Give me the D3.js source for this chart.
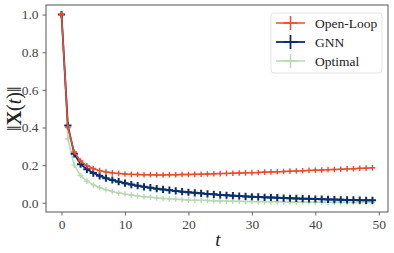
<!DOCTYPE html>
<html>
<head>
<meta charset="utf-8">
<script src="https://cdn.jsdelivr.net/npm/d3@7"></script>
<style>
  body { margin: 0; background: #fff; }
  svg { display: block; font-family: "Liberation Serif", "DejaVu Serif", serif; }
</style>
</head>
<body>
<div id="chart"></div>
<script>
const steps = d3.range(0, 50);
const openLoop = [1.0, 0.40, 0.27, 0.222, 0.197, 0.182, 0.171, 0.164, 0.159, 0.156,
  0.153, 0.151, 0.150, 0.149, 0.149, 0.148, 0.148, 0.149, 0.149, 0.150,
  0.150, 0.151, 0.152, 0.153, 0.154, 0.155, 0.156, 0.157, 0.158, 0.159,
  0.160, 0.161, 0.163, 0.164, 0.165, 0.166, 0.168, 0.169, 0.170, 0.172,
  0.173, 0.174, 0.176, 0.177, 0.178, 0.180, 0.181, 0.183, 0.184, 0.186];
const gnn = [1.0, 0.41, 0.26, 0.205, 0.178, 0.158, 0.143, 0.131, 0.121, 0.112,
  0.104, 0.097, 0.091, 0.085, 0.080, 0.075, 0.071, 0.067, 0.063, 0.059,
  0.056, 0.053, 0.050, 0.047, 0.045, 0.042, 0.040, 0.038, 0.036, 0.034,
  0.032, 0.031, 0.029, 0.028, 0.027, 0.025, 0.024, 0.023, 0.022, 0.021,
  0.020, 0.019, 0.018, 0.017, 0.016, 0.015, 0.015, 0.014, 0.013, 0.013];
const optimal = [1.0, 0.34, 0.20, 0.145, 0.115, 0.095, 0.080, 0.069, 0.060, 0.052,
  0.046, 0.041, 0.036, 0.032, 0.029, 0.026, 0.023, 0.021, 0.019, 0.017,
  0.015, 0.014, 0.013, 0.012, 0.011, 0.010, 0.009, 0.008, 0.008, 0.007,
  0.007, 0.006, 0.006, 0.005, 0.005, 0.005, 0.004, 0.004, 0.004, 0.004,
  0.003, 0.003, 0.003, 0.003, 0.003, 0.003, 0.002, 0.002, 0.002, 0.002];
const seriesNames = ["Open-Loop", "GNN", "Optimal"];
const xTicks = [0, 10, 20, 30, 40, 50];
const yTicks = [0.0, 0.2, 0.4, 0.6, 0.8, 1.0];

const colors = ["#f04a2e", "#08306b", "#b8d9b1"];
const lineWidths = [1.5, 1.8, 1.5];
const markSizes = [2.8, 3.6, 2.8];
const markWidths = [1.4, 2.0, 1.4];

const width = 394, height = 253;
const margin = { top: 5, right: 6, bottom: 41, left: 46 };
const serif = "'Liberation Serif', 'DejaVu Serif', serif";

const svg = d3.select("#chart").append("svg")
  .attr("width", width).attr("height", height);

const x = d3.scaleLinear().domain([-2.45, 51.45]).range([margin.left, width - margin.right]);
const y = d3.scaleLinear().domain([-0.049, 1.051]).range([height - margin.bottom, margin.top]);

// axes
const xAxis = svg.append("g")
  .attr("transform", "translate(0," + (height - margin.bottom) + ")")
  .call(d3.axisBottom(x).tickValues(xTicks).tickSize(3.5).tickPadding(4).tickFormat(d3.format("d")));
const yAxis = svg.append("g")
  .attr("transform", "translate(" + margin.left + ",0)")
  .call(d3.axisLeft(y).tickValues(yTicks).tickSize(3.5).tickPadding(4).tickFormat(d3.format(".1f")));

[xAxis, yAxis].forEach(g => {
  g.attr("font-family", serif).attr("font-size", 13.5);
  g.select(".domain").remove();
  g.selectAll(".tick line").attr("stroke", "#444").attr("stroke-width", 0.8);
  g.selectAll(".tick text").attr("fill", "#444");
});

// frame
svg.append("rect")
  .attr("x", margin.left).attr("y", margin.top)
  .attr("width", width - margin.left - margin.right)
  .attr("height", height - margin.top - margin.bottom)
  .attr("fill", "none").attr("stroke", "#555").attr("stroke-width", 1);

const allSeries = [openLoop, gnn, optimal];
const line = d3.line().x((d, i) => x(steps[i])).y(d => y(d));

const plusPath = s => "M" + (-s) + ",0H" + s + "M0," + (-s) + "V" + s;

// draw from back (optimal) to front (open-loop)
[2, 1, 0].forEach(k => {
  const g = svg.append("g");
  g.append("path")
    .datum(allSeries[k])
    .attr("fill", "none")
    .attr("stroke", colors[k])
    .attr("stroke-width", lineWidths[k])
    .attr("d", line);
  g.selectAll("path.mk")
    .data(allSeries[k])
    .join("path")
    .attr("class", "mk")
    .attr("transform", (d, i) => "translate(" + x(steps[i]) + "," + y(d) + ")")
    .attr("d", plusPath(markSizes[k]))
    .attr("stroke", colors[k])
    .attr("stroke-width", markWidths[k]);
});

// legend
const lg = svg.append("g").attr("transform", "translate(271,13)");
lg.append("rect")
  .attr("width", 111).attr("height", 60).attr("rx", 3)
  .attr("fill", "#fff").attr("fill-opacity", 0.8)
  .attr("stroke", "#ddd").attr("stroke-width", 0.8);
seriesNames.forEach((name, k) => {
  const yy = 10 + k * 19;
  lg.append("line").attr("x1", 5).attr("x2", 34).attr("y1", yy).attr("y2", yy)
    .attr("stroke", colors[k]).attr("stroke-width", lineWidths[k]);
  lg.append("path").attr("transform", "translate(19.5," + yy + ")")
    .attr("d", plusPath(7)).attr("stroke", colors[k]).attr("stroke-width", lineWidths[k]);
  lg.append("text").attr("x", 44).attr("y", yy + 4.5)
    .attr("fill", "#222").attr("font-family", serif).attr("font-size", 13.5).text(name);
});

// axis labels
svg.append("text")
  .attr("x", (x(0) + x(49)) / 2 + 1).attr("y", 246)
  .attr("text-anchor", "middle")
  .attr("font-family", serif).attr("font-size", 19).attr("font-style", "italic")
  .attr("fill", "#222").text("t");

const yl = svg.append("text")
  .attr("transform", "translate(21," + y(0.5) + ") rotate(-90)")
  .attr("text-anchor", "middle")
  .attr("font-family", serif).attr("font-size", 20).attr("fill", "#222");
yl.append("tspan").text("\u2016");
yl.append("tspan").attr("font-weight", "bold").text("X");
yl.append("tspan").text("(");
yl.append("tspan").attr("font-style", "italic").text("t");
yl.append("tspan").text(")\u2016");
</script>
</body>
</html>
